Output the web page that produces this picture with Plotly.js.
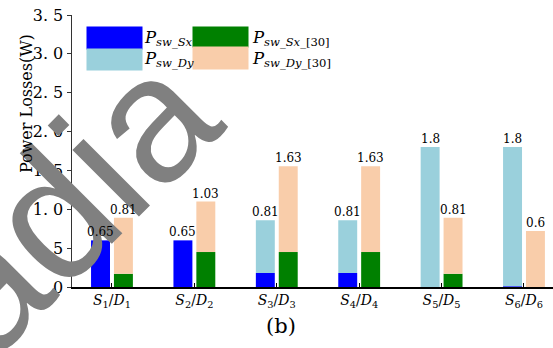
<!DOCTYPE html>
<html><head><meta charset="utf-8">
<script src="https://cdn.plot.ly/plotly-3.0.1.min.js"></script>
<style>html,body{margin:0;padding:0;background:#fff}#chart{width:553px;height:348px}</style>
</head><body><div id="chart"></div>
<script>
// Data
const categories = ["S1/D1","S2/D2","S3/D3","S4/D4","S5/D5","S6/D6"];
const tickLabels = ["<i>S</i><sub>1</sub>/<i>D</i><sub>1</sub>","<i>S</i><sub>2</sub>/<i>D</i><sub>2</sub>","<i>S</i><sub>3</sub>/<i>D</i><sub>3</sub>","<i>S</i><sub>4</sub>/<i>D</i><sub>4</sub>","<i>S</i><sub>5</sub>/<i>D</i><sub>5</sub>","<i>S</i><sub>6</sub>/<i>D</i><sub>6</sub>"];
const pswSx   = [0.60, 0.60, 0.18, 0.18, 0.00, 0.01];
const pswDy   = [0.00, 0.00, 0.68, 0.68, 1.80, 1.79];
const pswSx30 = [0.17, 0.45, 0.45, 0.45, 0.17, 0.00];
const pswDy30 = [0.72, 0.65, 1.105, 1.105, 0.72, 0.72];
const leftLabels  = ["0.65","0.65","0.81","0.81","1.8","1.8"];
const rightLabels = ["0.81","1.03","1.63","1.63","0.81","0.6"];
const yTickVals = [0, 0.5, 1.0, 1.5, 2.0, 2.5, 3.0, 3.5];
const yTickText = ["0","0. 5","1. 0","1. 5","2. 0","2. 5","3. 0","3. 5"];

const C = {sx:"#0000FF", dy:"#9AD0DC", sx30:"#008000", dy30:"#F9CDAA"};
const W = 0.23, OL = -0.254, OR = 0.024;
const idx = categories.map((_, i) => i);
const sum = (a, b) => a.map((v, i) => v + b[i]);

const traces = [
  {type:"bar", x:idx, y:pswSx, base:0, offset:OL, width:W, marker:{color:C.sx}, name:"Psw_Sx"},
  {type:"bar", x:idx, y:pswDy, base:pswSx, offset:OL, width:W, marker:{color:C.dy}, name:"Psw_Dy"},
  {type:"bar", x:idx, y:pswSx30, base:0, offset:OR, width:W, marker:{color:C.sx30}, name:"Psw_Sx_[30]"},
  {type:"bar", x:idx, y:pswDy30, base:pswSx30, offset:OR, width:W, marker:{color:C.dy30}, name:"Psw_Dy_[30]"}
];

const serif = "DejaVu Serif";
const L = 72, PW = 481, T = 15, PH = 271.7;
const px = x => (x - L) / PW, py = y => (T + PH - y) / PH;
const ann = [];
// watermark
ann.push({xref:"paper", yref:"paper", x:px(45), y:py(223), text:"radia", showarrow:false, textangle:-45,
  font:{family:"Liberation Sans", size:178, color:"#808080"}, xanchor:"center", yanchor:"middle"});
const leftTop = sum(pswSx, pswDy), rightTop = sum(pswSx30, pswDy30);
idx.forEach(i => {
  ann.push({x:i + OL + W/2, y:leftTop[i], text:leftLabels[i], showarrow:false, yanchor:"bottom", xanchor:"center", yshift:-1,
    font:{family:serif, size:12, color:"#000"}});
  ann.push({x:i + OR + W/2, y:rightTop[i], text:rightLabels[i], showarrow:false, yanchor:"bottom", xanchor:"center", yshift:-1,
    font:{family:serif, size:12, color:"#000"}});
});
// legend (manual)
ann.push({xref:"paper", yref:"paper", x:px(80), y:py(20), xanchor:"left", yanchor:"top", text:" ", showarrow:false, width:255, height:52, bgcolor:"#fff"});
const sw = [[86,26,22,C.sx],[86,48,21,C.dy],[192,26,20,C.sx30],[192,46,22,C.dy30]];
sw.forEach(s => ann.push({xref:"paper", yref:"paper", x:px(s[0]), y:py(s[1]), xanchor:"left", yanchor:"top", text:" ", showarrow:false,
  width:55, height:s[2], bgcolor:s[3], borderpad:0, font:{size:4}}));
const lt = [[142,38,"<i>P</i><sub><i>sw_Sx</i></sub>"],[142,59,"<i>P</i><sub><i>sw_Dy</i></sub>"],
            [250,38,"<i>P</i><sub><i>sw_Sx</i>_[30]</sub>"],[250,59,"<i>P</i><sub><i>sw_Dy</i>_[30]</sub>"]];
lt.forEach(t => ann.push({xref:"paper", yref:"paper", x:px(t[0]), y:py(t[1]), xanchor:"left", yanchor:"middle", text:t[2], showarrow:false,
  font:{family:serif, size:16.5, color:"#000"}}));
// y title
ann.push({xref:"paper", yref:"paper", x:px(26), y:py(104), text:"Power Losses(W)", textangle:-90, showarrow:false,
  xanchor:"center", yanchor:"middle", font:{family:serif, size:16, color:"#000"}});
// (b)
ann.push({xref:"paper", yref:"paper", x:px(281), y:py(326), text:"(b)", showarrow:false, xanchor:"center", yanchor:"middle",
  font:{family:serif, size:21, color:"#000"}});

const layout = {
  width:553, height:348, margin:{l:72, r:0, t:15, b:61.3}, paper_bgcolor:"#fff", plot_bgcolor:"#fff",
  barmode:"overlay", showlegend:false, font:{family:serif},
  xaxis:{type:"linear", range:[-0.485, 5.352], tickvals:idx, ticktext:tickLabels, ticks:"inside", ticklen:4, tickcolor:"#000",
    showline:true, linecolor:"#000", linewidth:1.5, showgrid:false, zeroline:false, tickfont:{family:serif, size:14, color:"#000"}},
  yaxis:{range:[0, 3.5], tickvals:yTickVals, ticktext:yTickText, ticks:"outside", ticklen:4, tickcolor:"#333",
    showline:true, linecolor:"#333", linewidth:1.5, showgrid:false, zeroline:false, tickfont:{family:serif, size:16, color:"#000"}},
  annotations:ann
};
Plotly.newPlot("chart", traces, layout, {staticPlot:true, displayModeBar:false});
</script></body></html>
